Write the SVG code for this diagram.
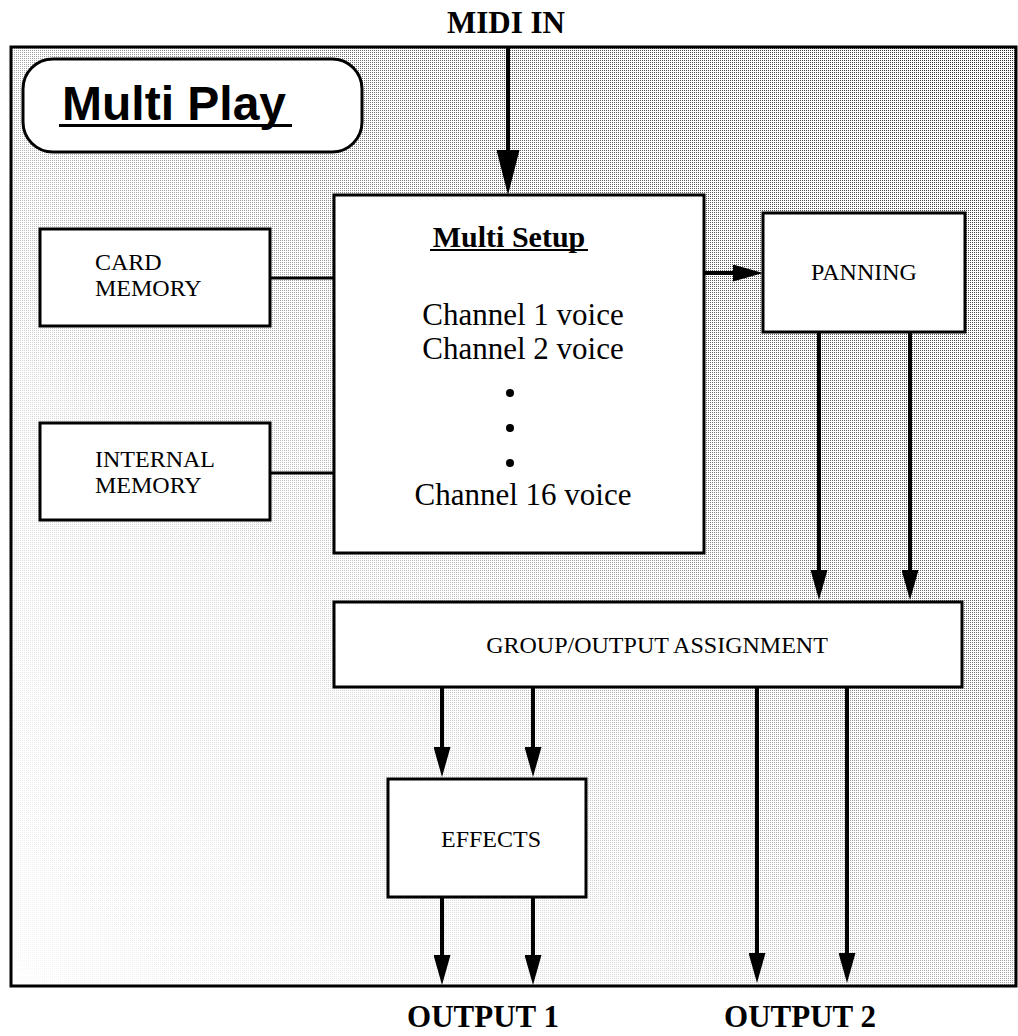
<svg xmlns="http://www.w3.org/2000/svg" width="1018" height="1036" viewBox="0 0 1018 1036">
  <style>
    .box { fill: #ffffff; stroke: #000000; stroke-width: 3; }
    .lbl { font-family: "Liberation Serif", "Times New Roman", serif; font-size: 24px; fill: #000000; }
    .ttl { font-family: "Liberation Serif", "Times New Roman", serif; font-size: 31px; font-weight: bold; fill: #000000; }
    .chan { font-family: "Liberation Serif", "Times New Roman", serif; font-size: 31px; fill: #000000; text-anchor: middle; }
    .conn { stroke: #000000; stroke-width: 4; fill: none; }
    .plain { stroke: #000000; stroke-width: 3; fill: none; }
  </style>
  <defs>
    <pattern id="dots" width="2" height="2" patternUnits="userSpaceOnUse">
      <rect x="0" y="0" width="1" height="1" fill="#222222"/>
    </pattern>
    <linearGradient id="fade" x1="0" y1="1" x2="1" y2="0">
      <stop offset="0" stop-color="#ffffff" stop-opacity="0.03"/>
      <stop offset="0.35" stop-color="#ffffff" stop-opacity="0.2"/>
      <stop offset="0.7" stop-color="#ffffff" stop-opacity="0.7"/>
      <stop offset="1" stop-color="#ffffff" stop-opacity="0.95"/>
    </linearGradient>
    <mask id="fadeMask" maskUnits="userSpaceOnUse" x="0" y="0" width="1018" height="1036">
      <rect x="11" y="47" width="1005" height="939" fill="url(#fade)"/>
    </mask>
    <marker id="arr" viewBox="0 0 30 17" markerUnits="userSpaceOnUse" markerWidth="30" markerHeight="17" refX="5" refY="8.5" orient="auto">
      <path d="M0,0 L30,8.5 L0,17 z" fill="#000000"/>
    </marker>
    <marker id="arrBig" viewBox="0 0 45 23" markerUnits="userSpaceOnUse" markerWidth="45" markerHeight="23" refX="10" refY="11.5" orient="auto">
      <path d="M0,0 L45,11.5 L0,23 z" fill="#000000"/>
    </marker>
  </defs>

  <rect x="0" y="0" width="1018" height="1036" fill="#ffffff"/>

  <g id="frame">
    <rect x="11" y="47" width="1005" height="939" fill="#ffffff"/>
    <rect x="11" y="47" width="1005" height="939" fill="url(#dots)" mask="url(#fadeMask)"/>
    <rect x="11" y="47" width="1005" height="939" fill="none" stroke="#000000" stroke-width="3"/>
  </g>

  <g id="title">
    <rect x="23" y="59" width="339" height="93" rx="30" ry="30" class="box"/>
    <text x="62" y="120" font-family="'Liberation Sans', Arial, sans-serif" font-size="48" font-weight="bold" fill="#000000">Multi Play</text>
    <line x1="59" y1="125.5" x2="292" y2="125.5" stroke="#000000" stroke-width="3"/>
  </g>

  <g id="connectors">
    <line x1="508" y1="47" x2="508" y2="160" class="conn" stroke-width="5" marker-end="url(#arrBig)"/>
    <line x1="270" y1="278" x2="334" y2="278" class="plain"/>
    <line x1="270" y1="473" x2="334" y2="473" class="plain"/>
    <line x1="704" y1="273" x2="738" y2="273" class="conn" marker-end="url(#arr)"/>
    <line x1="819" y1="332" x2="819" y2="575" class="conn" marker-end="url(#arr)"/>
    <line x1="910" y1="332" x2="910" y2="575" class="conn" marker-end="url(#arr)"/>
    <line x1="442" y1="687" x2="442" y2="752" class="conn" marker-end="url(#arr)"/>
    <line x1="533" y1="687" x2="533" y2="752" class="conn" marker-end="url(#arr)"/>
    <line x1="442" y1="897" x2="442" y2="960" class="conn" marker-end="url(#arr)"/>
    <line x1="533" y1="897" x2="533" y2="960" class="conn" marker-end="url(#arr)"/>
    <line x1="757" y1="687" x2="757" y2="958" class="conn" marker-end="url(#arr)"/>
    <line x1="847" y1="687" x2="847" y2="958" class="conn" marker-end="url(#arr)"/>
  </g>

  <g id="midi-in">
    <text x="506" y="33" class="ttl" text-anchor="middle">MIDI IN</text>
  </g>

  <g id="card-memory">
    <rect x="40" y="229" width="230" height="97" class="box"/>
    <text x="95" y="270" class="lbl">CARD</text>
    <text x="95" y="296" class="lbl">MEMORY</text>
  </g>

  <g id="internal-memory">
    <rect x="40" y="423" width="230" height="97" class="box"/>
    <text x="95" y="467" class="lbl">INTERNAL</text>
    <text x="95" y="493" class="lbl">MEMORY</text>
  </g>

  <g id="multi-setup">
    <rect x="334" y="195" width="370" height="358" class="box"/>
    <text x="509" y="247" font-family="'Liberation Serif', 'Times New Roman', serif" font-size="30" font-weight="bold" fill="#000000" text-anchor="middle">Multi Setup</text>
    <line x1="430" y1="250" x2="588" y2="250" stroke="#000000" stroke-width="2"/>
    <text x="523" y="325" class="chan">Channel 1 voice</text>
    <text x="523" y="359" class="chan">Channel 2 voice</text>
    <circle cx="510" cy="393" r="4" fill="#000000"/>
    <circle cx="510" cy="428" r="4" fill="#000000"/>
    <circle cx="510" cy="463" r="4" fill="#000000"/>
    <text x="523" y="505" class="chan">Channel 16 voice</text>
  </g>

  <g id="panning">
    <rect x="763" y="213" width="202" height="119" class="box"/>
    <text x="864" y="280" class="lbl" text-anchor="middle">PANNING</text>
  </g>

  <g id="group-output">
    <rect x="334" y="602" width="628" height="85" class="box"/>
    <text x="657" y="653" class="lbl" text-anchor="middle">GROUP/OUTPUT ASSIGNMENT</text>
  </g>

  <g id="effects">
    <rect x="388" y="779" width="198" height="118" class="box"/>
    <text x="491" y="847" class="lbl" text-anchor="middle">EFFECTS</text>
  </g>

  <g id="outputs">
    <text x="483" y="1027" class="ttl" text-anchor="middle">OUTPUT 1</text>
    <text x="800" y="1027" class="ttl" text-anchor="middle">OUTPUT 2</text>
  </g>
</svg>
